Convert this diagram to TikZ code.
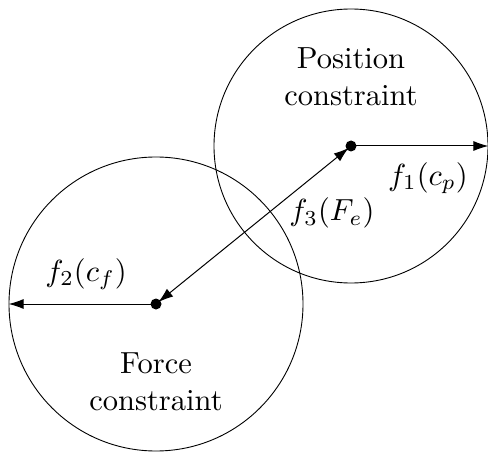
\documentclass[tikz,border=0pt]{standalone}
\usetikzlibrary{arrows.meta}
\begin{document}
\begin{tikzpicture}[x=1pt,y=1pt,
  txt/.style={scale=3.05,inner sep=1pt},
  region/.style={draw,circle,line width=0.9pt,inner sep=0pt},
  dotnode/.style={circle,fill=black,inner sep=0pt,minimum size=11pt},
  vec/.style={line width=1pt,-{Latex[length=15pt,width=10pt]}},
  lbl/.style={txt,align=center}]
\useasboundingbox (0,0) rectangle (488,-452);
\node[region,minimum size=274pt] (pc) at (351,-146) {};
\node[region,minimum size=294pt] (fc) at (156,-304) {};
\node[dotnode] (p) at (351,-146) {};
\node[dotnode] (f) at (156,-304) {};
\coordinate (pe) at (pc.east);
\coordinate (fw) at (fc.west);
\draw[vec] (p.center) -- (pe);
\draw[vec] (f.center) -- (fw);
\draw[vec,{Latex[length=15pt,width=10pt]}-{Latex[length=15pt,width=10pt]},shorten <=3pt,shorten >=3pt] (f.center) -- (p.center);
\node[lbl] (t1) at (351,-77) {Position\\constraint};
\node[lbl] (t2) at (156,-382) {Force\\constraint};
\node[txt] (l1) at (428,-178) {$f_1(c_p)$};
\node[txt] (l2) at (86,-274) {$f_2(c_f)$};
\node[txt] (l3) at (332,-213) {$f_3(F_e)$};
\end{tikzpicture}
\end{document}
